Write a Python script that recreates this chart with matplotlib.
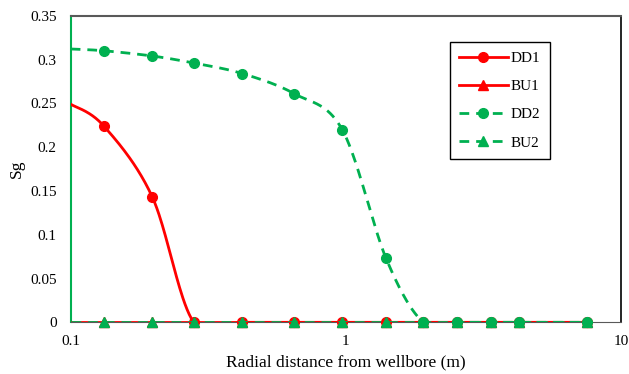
import numpy as np
import matplotlib.pyplot as plt
from matplotlib.ticker import FixedLocator, FuncFormatter, NullLocator

plt.rcParams['font.family'] = ['Liberation Serif']
plt.rcParams['font.size'] = 11

# radial distance (m) and gas saturation profiles
r = [0.1, 0.132, 0.198, 0.280, 0.420, 0.649, 0.970, 1.40, 1.91, 2.54, 3.38, 4.26, 7.53]
dd1 = [0.249, 0.224, 0.143, 0, 0, 0, 0, 0, 0, 0, 0, 0, 0]
bu1 = [0, 0, 0, 0, 0, 0, 0, 0, 0, 0, 0, 0, 0]
dd2 = [0.312, 0.310, 0.304, 0.296, 0.284, 0.261, 0.220, 0.073, 0, 0, 0, 0, 0]
bu2 = [0, 0, 0, 0, 0, 0, 0, 0, 0, 0, 0, 0, 0]

RED = '#ff0000'
GREEN = '#00b050'


def smooth(x, y, n=40):
    # catmull-rom through the points, done in screen-like units (log x)
    px = np.log10(x) * 275.0
    py = np.asarray(y, float) * 876.0
    P = np.column_stack([px, py])
    P = np.vstack([P[0], P, P[-1]])
    out = []
    t = np.linspace(0, 1, n)[:, None]
    for i in range(1, len(P) - 2):
        p0, p1, p2, p3 = P[i - 1], P[i], P[i + 1], P[i + 2]
        c1 = p1 + (p2 - p0) / 6.0
        c2 = p2 - (p3 - p1) / 6.0
        seg = ((1 - t) ** 3) * p1 + 3 * ((1 - t) ** 2) * t * c1 \
            + 3 * (1 - t) * t ** 2 * c2 + t ** 3 * p2
        out.append(seg if i == 1 else seg[1:])
    out = np.vstack(out)
    return 10 ** (out[:, 0] / 275.0), out[:, 1] / 876.0


fig = plt.figure(figsize=(6.29, 3.74), dpi=100)
ax = fig.add_axes([0.1124, 0.1382, 0.8749, 0.8198])

series = [
    ('DD1', dd1, RED, '-', 'o', 7),
    ('BU1', bu1, RED, '-', '^', 7),
    ('BU2', bu2, GREEN, (0, (3.5, 2.5)), '^', 7),
    ('DD2', dd2, GREEN, (0, (3.5, 2.5)), 'o', 7),
]
handles = {}
for z, (name, y, c, ls, mk, ms) in enumerate(series):
    sx, sy = smooth(r, y)
    ax.plot(sx, sy, color=c, lw=2, ls=ls, zorder=3 + z)
    ax.plot(r[1:], y[1:], ls='none', marker=mk, ms=ms, color=c,
            clip_on=False, zorder=3 + z)
    handles[name] = ax.plot([], [], color=c, lw=2, ls=ls, marker=mk, ms=ms)[0]

ax.set_xscale('log')
ax.set_xlim(0.1, 10)
ax.set_ylim(0, 0.35)
ax.xaxis.set_major_locator(FixedLocator([0.1, 1, 10]))
ax.xaxis.set_minor_locator(NullLocator())
ax.xaxis.set_major_formatter(FuncFormatter(lambda v, p: '%g' % v))
ax.set_yticks(np.arange(0, 0.351, 0.05))
ax.yaxis.set_major_formatter(FuncFormatter(lambda v, p: '%g' % round(v, 2)))
ax.tick_params(length=0)
ax.tick_params(axis='y', pad=10)
ax.tick_params(axis='x', pad=9)

ax.spines['left'].set_color(GREEN)
ax.spines['left'].set_linewidth(1.5)
ax.spines['top'].set_color('#595959')
ax.spines['top'].set_linewidth(1.5)
ax.spines['right'].set_color('black')
ax.spines['right'].set_linewidth(1.2)
ax.spines['bottom'].set_color('#595959')

ax.set_xlabel('Radial distance from wellbore (m)', fontsize=12.5, labelpad=5)
ax.set_ylabel('Sg', fontsize=12.5, labelpad=4)

leg = ax.legend([handles[k] for k in ['DD1', 'BU1', 'DD2', 'BU2']],
                ['DD1', 'BU1', 'DD2', 'BU2'],
                loc='upper left', bbox_to_anchor=(0.689, 0.914),
                borderaxespad=0, numpoints=1, handlelength=3.2,
                handletextpad=0.2, labelspacing=0.95, borderpad=0.6,
                fancybox=False, framealpha=1, edgecolor='black')
leg.get_frame().set_linewidth(1.0)

fig.savefig('out.png', dpi=100)
